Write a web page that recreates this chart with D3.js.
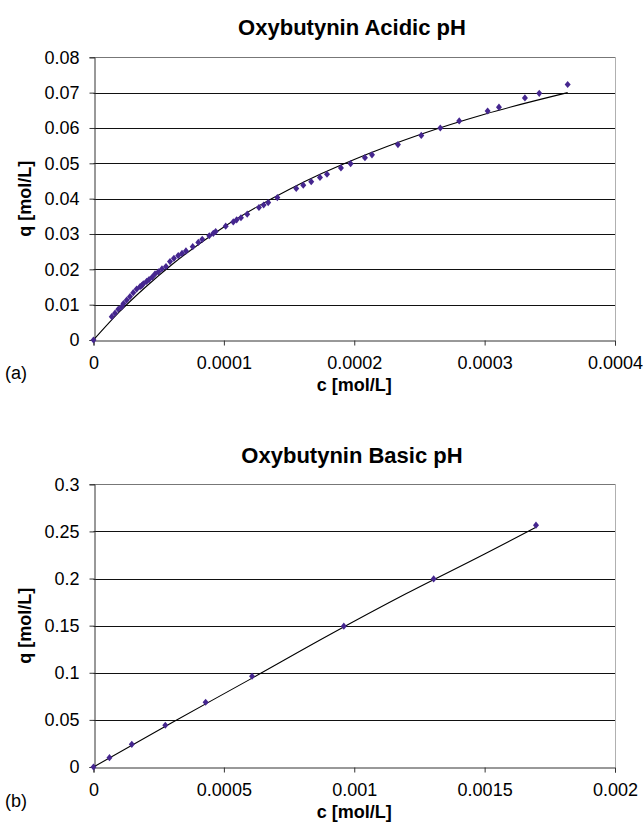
<!DOCTYPE html>
<html>
<head>
<meta charset="utf-8">
<script src="https://cdn.jsdelivr.net/npm/d3@7"></script>
<style>
  html, body { margin: 0; padding: 0; background: #fff; }
  svg { display: block; font-family: "Liberation Sans", Arial, sans-serif; }
</style>
</head>
<body>
<svg id="chart" width="644" height="836"></svg>
<script>
// ---- Panel (a): acidic pH isotherm ----
const acidC = [0, 1.40e-5, 1.65e-5, 1.90e-5, 2.16e-5, 2.30e-5, 2.55e-5, 2.80e-5, 3.05e-5, 3.31e-5,
  3.57e-5, 3.70e-5, 3.82e-5, 4.08e-5, 4.26e-5, 4.51e-5, 4.72e-5, 4.98e-5, 5.25e-5, 5.56e-5,
  5.87e-5, 6.17e-5, 6.50e-5, 6.79e-5, 7.09e-5, 7.61e-5, 8.04e-5, 8.34e-5, 8.88e-5, 9.19e-5,
  9.37e-5, 1.014e-4, 1.072e-4, 1.098e-4, 1.131e-4, 1.179e-4, 1.269e-4, 1.305e-4, 1.340e-4, 1.410e-4,
  1.555e-4, 1.609e-4, 1.670e-4, 1.737e-4, 1.791e-4, 1.898e-4, 1.972e-4, 2.082e-4, 2.136e-4, 2.335e-4,
  2.514e-4, 2.660e-4, 2.805e-4, 3.023e-4, 3.110e-4, 3.309e-4, 3.419e-4, 3.637e-4];
const acidQ = [0, 0.0066, 0.0076, 0.0087, 0.0094, 0.0103, 0.0113, 0.0123, 0.0134, 0.0144,
  0.0151, 0.0154, 0.0159, 0.0166, 0.0171, 0.0178, 0.0187, 0.0193, 0.0201, 0.0208,
  0.0222, 0.0231, 0.0239, 0.0245, 0.0252, 0.0264, 0.0276, 0.0285, 0.0295, 0.0302,
  0.0307, 0.0322, 0.0334, 0.0340, 0.0346, 0.0356, 0.0375, 0.0382, 0.0389, 0.0403,
  0.0429, 0.0438, 0.0448, 0.0460, 0.0469, 0.0487, 0.0499, 0.0516, 0.0524, 0.0553,
  0.0579, 0.0600, 0.0620, 0.0648, 0.0659, 0.0685, 0.0698, 0.0723];
// fitted isotherm line
const acidFitC = [0, 2e-5, 4e-5, 6e-5, 8e-5, 1e-4, 1.25e-4, 1.5e-4, 1.75e-4, 2e-4, 2.5e-4, 3e-4, 3.637e-4];
const acidFitQ = [0, 0.0080, 0.0150, 0.0213, 0.0269, 0.0320, 0.0376, 0.0426, 0.0471, 0.0511, 0.0581, 0.0639, 0.0700];
const acidXTicks = [0, 0.0001, 0.0002, 0.0003, 0.0004];
const acidXLabels = ["0", "0.0001", "0.0002", "0.0003", "0.0004"];
const acidYTicks = [0, 0.01, 0.02, 0.03, 0.04, 0.05, 0.06, 0.07, 0.08];
const acidYLabels = ["0", "0.01", "0.02", "0.03", "0.04", "0.05", "0.06", "0.07", "0.08"];

// ---- Panel (b): basic pH isotherm ----
const baseC = [0, 6.12e-5, 1.469e-4, 2.754e-4, 4.30e-4, 6.08e-4, 9.60e-4, 1.3045e-3, 1.697e-3];
const baseQ = [0, 0.0099, 0.0241, 0.0443, 0.0687, 0.0963, 0.1494, 0.1996, 0.2566];
const baseFitC = [0, 3e-4, 6e-4, 9e-4, 1.2e-3, 1.5e-3, 1.697e-3];
const baseFitQ = [0, 0.0470, 0.0930, 0.1395, 0.1840, 0.2260, 0.2545];
const baseXTicks = [0, 0.0005, 0.001, 0.0015, 0.002];
const baseXLabels = ["0", "0.0005", "0.001", "0.0015", "0.002"];
const baseYTicks = [0, 0.05, 0.1, 0.15, 0.2, 0.25, 0.3];
const baseYLabels = ["0", "0.05", "0.1", "0.15", "0.2", "0.25", "0.3"];

const svg = d3.select("#chart");
const markerColor = "#45268f";
const diamond = "M0,-3.6L3,0L0,3.6L-3,0Z";

function panel(opt) {
  const { left, right, top, bottom } = opt.box;
  const x = d3.scaleLinear().domain(opt.xDomain).range([left, right]);
  const y = d3.scaleLinear().domain(opt.yDomain).range([bottom, top]);
  const g = svg.append("g");

  // title
  g.append("text")
    .attr("x", opt.titleX).attr("y", opt.titleY)
    .attr("text-anchor", "middle")
    .attr("font-weight", "bold").attr("font-size", 22)
    .text(opt.title);

  // horizontal gridlines
  g.append("g").selectAll("line")
    .data(opt.yTicks.slice(1, -1))
    .join("line")
    .attr("x1", left).attr("x2", right)
    .attr("y1", d => Math.round(y(d)) + 0.5).attr("y2", d => Math.round(y(d)) + 0.5)
    .attr("stroke", "#111").attr("stroke-width", 1);

  // plot frame: top edge and right edge
  g.append("line")
    .attr("x1", left).attr("x2", Math.round(right) + 0.5)
    .attr("y1", Math.round(top) + 0.5).attr("y2", Math.round(top) + 0.5)
    .attr("stroke", "#777");
  g.append("line")
    .attr("x1", Math.round(right) + 0.5).attr("x2", Math.round(right) + 0.5)
    .attr("y1", top).attr("y2", bottom)
    .attr("stroke", "#b0b0b0");

  // y axis
  const yAxis = d3.axisLeft(y).tickValues(opt.yTicks)
    .tickFormat((d, i) => opt.yLabels[i]).tickSize(5).tickPadding(10);
  const ya = g.append("g").attr("transform", `translate(${Math.round(left) + 0.5},0)`).call(yAxis);
  // x axis
  const xAxis = d3.axisBottom(x).tickValues(opt.xTicks)
    .tickFormat((d, i) => opt.xLabels[i]).tickSize(5).tickPadding(11);
  const xa = g.append("g").attr("transform", `translate(0,${Math.round(bottom) + 0.5})`).call(xAxis);
  [ya, xa].forEach(a => {
    a.select(".domain").attr("stroke", "#333");
    a.selectAll(".tick line").attr("stroke", "#333");
    a.selectAll(".tick text").attr("font-size", 18).attr("fill", "#000")
      .attr("font-family", "Liberation Sans, Arial, sans-serif");
  });

  // axis titles
  g.append("text")
    .attr("x", (left + right) / 2).attr("y", opt.xTitleY)
    .attr("text-anchor", "middle").attr("font-weight", "bold").attr("font-size", 18)
    .text("c [mol/L]");
  g.append("text")
    .attr("transform", `translate(${opt.yTitleX},${(top + bottom) / 2}) rotate(-90)`)
    .attr("text-anchor", "middle").attr("font-weight", "bold").attr("font-size", 18)
    .text("q [mol/L]");
  // panel tag
  g.append("text")
    .attr("x", 5).attr("y", opt.tagY)
    .attr("font-size", 18)
    .text(opt.tag);

  // fitted line
  const fit = opt.fitC.map((c, i) => [c, opt.fitQ[i]]);
  g.append("path")
    .datum(fit)
    .attr("d", d3.line().x(d => x(d[0])).y(d => y(d[1])).curve(d3.curveMonotoneX))
    .attr("fill", "none").attr("stroke", "#000").attr("stroke-width", 1.1);

  // measured points
  const pts = opt.c.map((c, i) => [c, opt.q[i]]);
  g.append("g").selectAll("path")
    .data(pts)
    .join("path")
    .attr("transform", d => `translate(${x(d[0])},${y(d[1])})`)
    .attr("d", diamond)
    .attr("fill", markerColor);
}

panel({
  box: { left: 93.5, right: 615, top: 57.3, bottom: 340 },
  xDomain: [0, 0.0004], yDomain: [0, 0.08],
  xTicks: acidXTicks, xLabels: acidXLabels,
  yTicks: acidYTicks, yLabels: acidYLabels,
  c: acidC, q: acidQ, fitC: acidFitC, fitQ: acidFitQ,
  title: "Oxybutynin Acidic pH", titleX: 352, titleY: 35,
  xTitleY: 391, yTitleX: 31, tag: "(a)", tagY: 379
});

panel({
  box: { left: 93.5, right: 615, top: 484.3, bottom: 767 },
  xDomain: [0, 0.002], yDomain: [0, 0.3],
  xTicks: baseXTicks, xLabels: baseXLabels,
  yTicks: baseYTicks, yLabels: baseYLabels,
  c: baseC, q: baseQ, fitC: baseFitC, fitQ: baseFitQ,
  title: "Oxybutynin Basic pH", titleX: 352, titleY: 463,
  xTitleY: 818, yTitleX: 31, tag: "(b)", tagY: 807
});
</script>
</body>
</html>
